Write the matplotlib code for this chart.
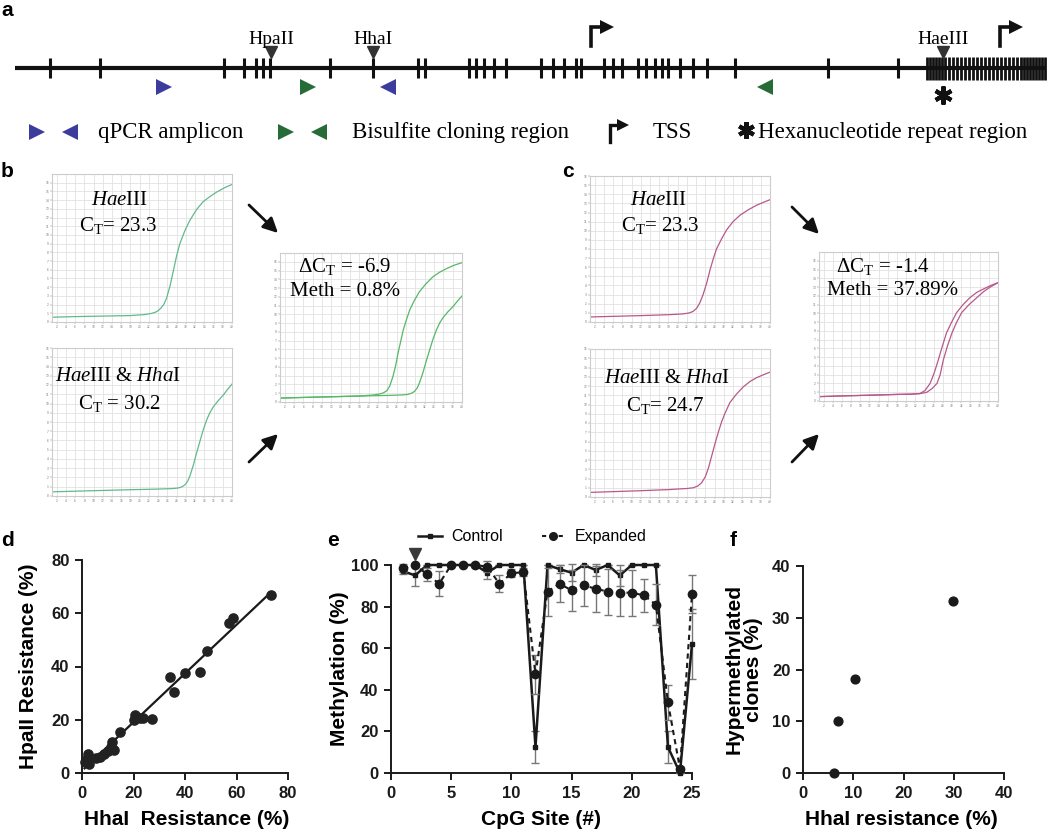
import numpy as np
import matplotlib
matplotlib.use('Agg')
import matplotlib.pyplot as plt
from matplotlib.lines import Line2D

plt.rcParams['font.family'] = ['Liberation Sans', 'DejaVu Sans']
plt.rcParams['mathtext.fontset'] = 'custom'
plt.rcParams['mathtext.rm'] = 'Liberation Serif'
plt.rcParams['mathtext.it'] = 'Liberation Serif:italic'

W, H = 1050, 833
fig = plt.figure(figsize=(10.5, 8.33), dpi=100)


def rect(x0, y0, x1, y1):
    return [x0 / W, 1 - y1 / H, (x1 - x0) / W, (y1 - y0) / H]

# ---------------- data ----------------
# panel a: positions along the locus (schematic units)
cpg_sites = [50, 100, 224, 244, 256, 263, 270, 330, 373, 418, 425, 469, 476, 484,
             494, 506, 541, 553, 564, 576, 581, 604, 613, 622, 638, 646, 655, 662,
             668, 680, 693, 707, 735, 828, 898]
repeat_sites = [927, 930, 933, 936, 939, 942, 945, 949, 953, 957, 961, 965, 969, 973,
                977, 981, 985, 989, 993, 997, 1001, 1005, 1009, 1013, 1017, 1021,
                1024, 1027, 1030, 1033, 1036, 1039, 1042, 1045]
enzyme_names = ['HpaII', 'HhaI', 'HaeIII']
enzyme_sites = [271, 373, 943]
qpcr_primer_sites = [164, 388]
bisulfite_primer_sites = [308, 765]
tss_sites = [591, 1000]
repeat_center = 943

# panels b/c: qPCR amplification curves (cycle, fluorescence)
b_hae_cycles = [1, 6, 12, 18, 21, 22.5, 23.3, 24.0, 24.6, 25.2, 25.8, 26.6, 27.3, 28,
                28.7, 29.8, 30.9, 32.3, 33.7, 35.2, 36.6, 38.3, 40]
b_hae_fluor = [0.55, 0.62, 0.68, 0.74, 0.85, 0.98, 1.1, 1.3, 1.6, 2.0, 2.7, 4.2, 5.9,
               7.6, 9.0, 10.5, 11.7, 12.9, 13.8, 14.4, 14.9, 15.4, 15.8]
b_hha_cycles = [1, 6, 12, 18, 24, 27, 28.3, 29.1, 29.8, 30.4, 30.9, 31.6, 32.3, 33.1,
                33.8, 34.5, 35.2, 35.9, 37, 38.1, 39, 40]
b_hha_fluor = [0.45, 0.52, 0.6, 0.68, 0.75, 0.8, 0.86, 0.98, 1.2, 1.6, 2.2, 3.3, 4.6,
               6.0, 7.2, 8.2, 9.0, 9.6, 10.3, 10.9, 11.5, 12.1]
b_comb_cycles = [1, 6, 12, 18, 21, 22.4, 23.2, 23.9, 24.5, 25.2, 25.8, 26.3, 26.9, 27.4,
                 28.1, 28.8, 29.8, 30.9, 32.3, 33.8, 35.2, 36.6, 38.3, 40]
b_comb_fluor = [0.45, 0.52, 0.6, 0.68, 0.8, 0.92, 1.05, 1.3, 1.8, 2.9, 4.2, 5.6, 7.0,
                8.2, 9.4, 10.5, 11.6, 12.6, 13.5, 14.3, 14.8, 15.2, 15.6, 15.9]

c_hae_cycles = [1, 6, 12, 18, 21, 22.4, 23.3, 24.1, 24.8, 25.5, 26.3, 27, 27.7, 28.4,
                29.5, 30.6, 32, 33.5, 35.3, 37.1, 38.5, 40]
c_hae_fluor = [0.55, 0.62, 0.7, 0.8, 0.88, 0.98, 1.15, 1.5, 2.1, 3.0, 4.3, 5.7, 6.9,
               8.0, 9.1, 10.1, 11.0, 11.7, 12.3, 12.8, 13.1, 13.4]
c_hha_cycles = [1, 6, 12, 18, 22, 23.4, 24.4, 25.2, 26.0, 26.7, 27.4, 28.1, 28.8, 29.5,
                30.2, 31.3, 32.7, 34.2, 35.7, 37.1, 38.5, 40]
c_hha_fluor = [0.5, 0.58, 0.68, 0.8, 0.92, 1.0, 1.2, 1.55, 2.2, 3.2, 4.5, 5.8, 7.0, 8.1,
               9.0, 10.2, 11.1, 11.9, 12.5, 12.9, 13.2, 13.5]
c_comb1_cycles = [1, 6, 12, 18, 21, 23.0, 24.1, 25.2, 26.1, 27.0, 27.9, 28.8, 29.9, 31.0,
                  32.4, 33.9, 35.4, 36.9, 38.5, 40]
c_comb1_fluor = [0.5, 0.58, 0.66, 0.75, 0.78, 0.85, 1.2, 2.0, 3.2, 4.7, 6.3, 7.8, 9.0,
                 10.1, 11.0, 11.8, 12.4, 12.8, 13.2, 13.5]
c_comb2_cycles = [1, 6, 12, 18, 21, 23, 24.5, 25.6, 26.7, 27.4, 28.1, 29.0, 30.0, 31.0,
                  32.1, 33.7, 35.4, 36.9, 38.3, 40]
c_comb2_fluor = [0.5, 0.58, 0.66, 0.75, 0.78, 0.84, 1.0, 1.4, 2.0, 3.0, 4.7, 6.3, 7.8,
                 9.0, 10.1, 11.0, 11.8, 12.5, 13.0, 13.5]

# panel d
d_hhai = [2.3, 1.9, 2.7, 1.0, 5.6, 6.9, 8.4, 10.1, 11.4, 11.8, 12.3, 14.6, 20.1, 20.7,
          22.4, 23.7, 27.2, 34.3, 35.6, 39.9, 46.0, 48.6, 57.2, 58.5, 73.3]
d_hpaii = [7.3, 5.4, 3.3, 4.1, 5.8, 6.0, 7.3, 8.3, 9.8, 11.6, 8.5, 15.4, 19.8, 21.6,
           20.8, 20.8, 20.4, 36.0, 30.4, 37.6, 37.9, 46.0, 56.5, 58.4, 66.8]

# panel e
cpg_site = list(range(1, 26))
control_meth = [97, 95, 100, 100, 100, 100, 100, 96.3, 100, 100, 100, 12.5, 100, 98,
                96.3, 100, 97.6, 100, 95, 100, 100, 100, 12.5, 0, 62]
control_sd = [1.5, 5, 0, 0, 0, 0, 0, 3, 0, 0, 0, 7.5, 0, 2, 4, 0, 3, 0, 5, 0, 0, 0,
              7.5, 0, 17]
expanded_meth = [98.5, 100, 95.5, 91, 100, 100, 100, 99.2, 91, 96, 96.6, 47.4, 87.2,
                 91, 87.8, 90.2, 88.6, 87.2, 86.7, 86.7, 85.4, 81, 34, 2, 86]
expanded_sd = [2, 0, 3, 6, 0, 0, 0, 2.5, 4, 2, 2, 9.5, 11.5, 9, 10, 10, 11, 11, 11,
               11, 8, 10, 8.5, 1, 9]
marked_site = 2

# panel f
f_hhai = [6.2, 7.0, 10.4, 29.9]
f_hyper = [0.0, 10.0, 18.2, 33.3]

# ---------------- panels b / c ----------------
green1 = '#62b98c'
green2 = '#55b866'
pink1 = '#b8588a'


def qpcr_axes(box, curves, color, ymax=17, lw=0.9):
    ax = fig.add_axes(rect(*box))
    for cyc, fl in curves:
        ax.plot(cyc, fl, color=color, lw=lw)
    ax.set_xlim(1, 40)
    ax.set_ylim(0, ymax)
    ax.set_xticks(np.arange(2, 41, 2))
    ax.set_yticks(np.arange(0, 17, 1))
    ax.grid(True, color='#e2e2e2', lw=0.6)
    ax.set_axisbelow(True)
    ax.tick_params(labelsize=2.3, length=1.2, width=0.3, colors='#777', pad=1)
    for s in ax.spines.values():
        s.set_color('#cccccc')
        s.set_linewidth(0.8)
    return ax


qpcr_axes((52, 174, 232, 322), [(b_hae_cycles, b_hae_fluor)], green1)
qpcr_axes((52, 348, 232, 496), [(b_hha_cycles, b_hha_fluor)], green1, ymax=13)
qpcr_axes((280, 253, 462, 402), [(b_comb_cycles, b_comb_fluor),
                                 (b_hha_cycles, b_hha_fluor)], green2)
qpcr_axes((590, 176, 770, 322), [(c_hae_cycles, c_hae_fluor)], pink1, ymax=15)
qpcr_axes((590, 349, 770, 497), [(c_hha_cycles, c_hha_fluor)], pink1, ymax=15)
qpcr_axes((819, 252, 998, 401), [(c_comb1_cycles, c_comb1_fluor),
                                 (c_comb2_cycles, c_comb2_fluor)], pink1, ymax=17)

# ---------------- common style for d/e/f ----------------
TICK_FS = 12
LAB_FS = 15


def style(ax):
    for s in ['top', 'right']:
        ax.spines[s].set_visible(False)
    for s in ['left', 'bottom']:
        ax.spines[s].set_linewidth(1.4)
        ax.spines[s].set_color('#1a1a1a')
    ax.tick_params(direction='out', length=5, width=1.4, labelsize=TICK_FS, pad=4,
                   colors='#1a1a1a')
    for lab in ax.get_xticklabels() + ax.get_yticklabels():
        lab.set_fontweight('bold')
    ax.patch.set_alpha(0)

# ---------------- panel d ----------------
axd = fig.add_axes(rect(82, 560, 288, 773))
axd.scatter(d_hhai, d_hpaii, s=44, color='#222222', zorder=3, clip_on=False)
slope, icpt = np.polyfit(d_hhai, d_hpaii, 1)
xfit = np.array([min(d_hhai), max(d_hhai)])
axd.plot(xfit, slope * xfit + icpt, color='#1a1a1a', lw=1.6)
axd.set_xlim(0, 80)
axd.set_ylim(0, 80)
axd.set_xticks([0, 20, 40, 60, 80])
axd.set_yticks([0, 20, 40, 60, 80])
style(axd)
axd.set_xlabel('HhaI  Resistance (%)', fontsize=LAB_FS, fontweight='bold')
axd.set_ylabel('HpaII Resistance (%)', fontsize=LAB_FS, fontweight='bold')
axd.xaxis.set_label_coords(0.51, -0.175)
axd.yaxis.set_label_coords(-0.215, 0.5)

# ---------------- panel e ----------------
axe = fig.add_axes(rect(391, 565, 692, 773))
ce = axe.errorbar(cpg_site, control_meth, yerr=control_sd, fmt='-s', color='#1a1a1a',
                  ms=3.5, lw=1.8, ecolor='#777777', elinewidth=1.0, capsize=3,
                  capthick=1.0, zorder=3)
ee = axe.errorbar(cpg_site, expanded_meth, yerr=expanded_sd, fmt='--o', color='#1a1a1a',
                  ms=6, lw=1.5, ecolor='#777777', elinewidth=1.0, capsize=3,
                  capthick=1.0, zorder=4)
ee[0].set_dashes((2.5, 2))
for cont in (ce, ee):
    for art in cont.get_children():
        art.set_clip_on(False)
axe.plot(marked_site, 105.5, marker='v', ms=8, color='#3a3a3a', clip_on=False,
         linestyle='none')
axe.set_xlim(0, 25)
axe.set_ylim(0, 100)
axe.set_xticks([0, 5, 10, 15, 20, 25])
axe.set_yticks([0, 20, 40, 60, 80, 100])
style(axe)
axe.set_xlabel('CpG Site (#)', fontsize=LAB_FS, fontweight='bold')
axe.set_ylabel('Methylation (%)', fontsize=LAB_FS, fontweight='bold')
axe.xaxis.set_label_coords(0.498, -0.18)
axe.yaxis.set_label_coords(-0.14, 0.5)
h_ctrl = Line2D([], [], color='#1a1a1a', lw=1.8, marker='s', ms=3.5)
h_exp = Line2D([], [], color='#1a1a1a', lw=1.5, marker='o', ms=5.5, dashes=(2, 2),
               markerfacecolor='#1a1a1a')
axe.legend([h_ctrl, h_exp], ['Control', 'Expanded'], ncol=2, frameon=False,
           loc='center', bbox_to_anchor=(0.47, 1.135), fontsize=11.5,
           handlelength=1.5, columnspacing=2.4, handletextpad=0.6)

# ---------------- panel f ----------------
axf = fig.add_axes(rect(803, 566, 1004, 773))
axf.scatter(f_hhai, f_hyper, s=40, color='#1a1a1a', zorder=3, clip_on=False)
axf.set_xlim(0, 40)
axf.set_ylim(0, 40)
axf.set_xticks([0, 10, 20, 30, 40])
axf.set_yticks([0, 10, 20, 30, 40])
style(axf)
axf.set_xlabel('HhaI resistance (%)', fontsize=LAB_FS, fontweight='bold')
axf.set_ylabel('Hypermethylated\nclones (%)', fontsize=LAB_FS, fontweight='bold',
               linespacing=1.0)
axf.xaxis.set_label_coords(0.488, -0.18)
axf.yaxis.set_label_coords(-0.2, 0.5)

# ---------------- overlay (panel a, annotations) ----------------
ov = fig.add_axes([0, 0, 1, 1], zorder=10)
ov.set_xlim(0, W)
ov.set_ylim(H, 0)
ov.axis('off')
ov.patch.set_alpha(0)

BLACK = '#111111'
BLUE = '#3b3c9c'
GREEN = '#276b37'
SERIF = 'Liberation Serif'

# locus line + CpG ticks
ov.plot([15, 1045], [68, 68], color=BLACK, lw=3.0, solid_capstyle='butt')
ov.vlines(cpg_sites, 58, 78, color=BLACK, lw=2.2)
ov.vlines(repeat_sites, 57, 80, color=BLACK, lw=2.0)
# enzyme sites
for name, x in zip(enzyme_names, enzyme_sites):
    ov.plot(x, 52, marker='v', ms=9, color='#333333')
    ov.text(x, 39, name, fontsize=14, family=SERIF, ha='center', va='center')
# primers
ov.plot(qpcr_primer_sites[0], 87, marker='>', ms=11, color=BLUE, mew=0)
ov.plot(qpcr_primer_sites[1], 87, marker='<', ms=11, color=BLUE, mew=0)
ov.plot(bisulfite_primer_sites[0], 87, marker='>', ms=11, color=GREEN, mew=0)
ov.plot(bisulfite_primer_sites[1], 87, marker='<', ms=11, color=GREEN, mew=0)
# TSS arrows
for x in tss_sites:
    ov.plot([x, x, x + 12], [46, 27, 27], color=BLACK, lw=2.6, solid_joinstyle='miter')
    ov.plot(x + 16, 27, marker='>', ms=10, color=BLACK, mew=0)
# repeat asterisk
ov.plot(repeat_center, 95, marker=(6, 2, 0), ms=13, mew=3, color=BLACK)

# legend row
LY = 132
ov.plot(37, LY, marker='>', ms=12, color=BLUE, mew=0)
ov.plot(70, LY, marker='<', ms=12, color=BLUE, mew=0)
ov.text(98, LY, 'qPCR amplicon', fontsize=16.5, family=SERIF, va='center')
ov.plot(286, LY, marker='>', ms=12, color=GREEN, mew=0)
ov.plot(319, LY, marker='<', ms=12, color=GREEN, mew=0)
ov.text(352, LY, 'Bisulfite cloning region', fontsize=16.5, family=SERIF, va='center')
ov.plot([610, 610, 619], [142, 125, 125], color=BLACK, lw=2.4, solid_joinstyle='miter')
ov.plot(623, 125, marker='>', ms=8, color=BLACK, mew=0)
ov.text(653, LY, 'TSS', fontsize=16.5, family=SERIF, va='center')
ov.plot(746, LY - 2, marker=(6, 2, 0), ms=12, mew=3, color=BLACK)
ov.text(758, LY, 'Hexanucleotide repeat region', fontsize=16.5, family=SERIF,
        va='center')

# qPCR annotations
QF = 15
qtexts = [
    (119, 205, r'$\mathit{Hae}$III'), (118, 231, r'C$_{\mathrm{T}}$= 23.3'),
    (118, 381, r'$\mathit{Hae}$III & $\mathit{Hha}$I'), (120, 409, r'C$_{\mathrm{T}}$ = 30.2'),
    (345, 272, r'ΔC$_{\mathrm{T}}$ = -6.9'), (345, 296, 'Meth = 0.8%'),
    (658, 205, r'$\mathit{Hae}$III'), (660, 231, r'C$_{\mathrm{T}}$= 23.3'),
    (667, 383, r'$\mathit{Hae}$III & $\mathit{Hha}$I'), (665, 411, r'C$_{\mathrm{T}}$= 24.7'),
    (883, 272, r'ΔC$_{\mathrm{T}}$ = -1.4'), (893, 295, 'Meth = 37.89%'),
]
for x, y, s in qtexts:
    ov.text(x, y, s, fontsize=QF, family=SERIF, ha='center', va='baseline')

# arrows between qPCR plots
arrow_kw = dict(arrowstyle='-|>', lw=2.0, color=BLACK, mutation_scale=22,
                shrinkA=0, shrinkB=0)
for (x0, y0, x1, y1) in [(249, 205, 278, 233), (249, 462, 278, 434),
                         (792, 207, 819, 234), (792, 462, 819, 434)]:
    ov.annotate('', xy=(x1, y1), xytext=(x0, y0), arrowprops=arrow_kw)

# panel letters
for x, y, s in [(7, 10, 'a'), (7, 171, 'b'), (568, 171, 'c'), (7, 540, 'd'),
                (333, 540, 'e'), (733, 540, 'f')]:
    ov.text(x, y, s, fontsize=15, fontweight='bold', ha='center', va='center')

fig.savefig('out.png', dpi=100)
